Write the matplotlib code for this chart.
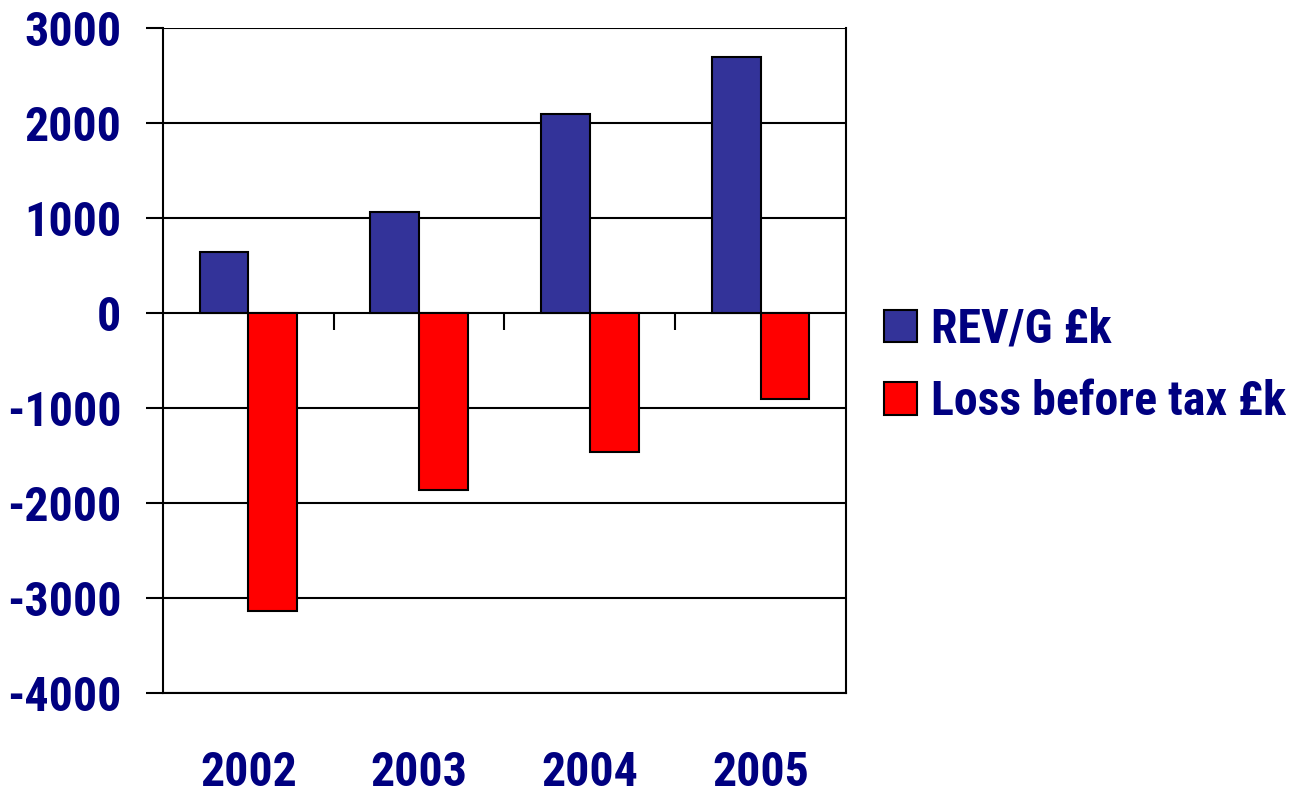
import matplotlib
matplotlib.use("Agg")
import matplotlib.pyplot as plt
import numpy as np
from matplotlib.patches import Patch
from matplotlib import font_manager

years = ["2002", "2003", "2004", "2005"]
revenue = [640, 1060, 2090, 2690]
loss = [-3140, -1860, -1460, -910]
series_names = ["REV/G £k", "Loss before tax £k"]
yticks = [3000, 2000, 1000, 0, -1000, -2000, -3000, -4000]


def _bold_ok(name):
    for f in font_manager.fontManager.ttflist:
        if f.name == name:
            try:
                w = int(f.weight)
            except (TypeError, ValueError):
                w = 700 if "bold" in str(f.weight).lower() else 400
            if w >= 700 and "Italic" not in f.fname:
                return True
    return False


chosen = "Liberation Sans"
for cand in ["Liberation Sans Narrow", "Arial Narrow", "Roboto Condensed", "PT Sans Narrow",
             "Archivo Narrow", "Asap Condensed"]:
    if _bold_ok(cand):
        chosen = cand
        break
plt.rcParams['font.family'] = [chosen, "Liberation Sans", "DejaVu Sans"]

navy = "#000080"
blue = "#333399"
red = "#FF0000"
fs = 34.5

fig = plt.figure(figsize=(13.1, 7.95), dpi=100)
ax = fig.add_axes([163/1310, 1-693/795, (846-163)/1310, (693-28)/795])

x = np.arange(len(years))
w = 1/3.5
ax.bar(x - w/2, revenue, w, color=blue, edgecolor="black", linewidth=1.5, zorder=3, label=series_names[0])
ax.bar(x + w/2, loss, w, color=red, edgecolor="black", linewidth=1.5, zorder=3, label=series_names[1])

ax.set_xlim(-0.5, len(years) - 0.5)
ax.set_ylim(-4000, 3000)
ax.set_yticks(yticks)
ax.set_yticklabels([str(v) for v in yticks])
ax.yaxis.grid(True, color="black", linewidth=1.5, zorder=1)
ax.set_axisbelow(True)
for side in ["left", "right", "bottom"]:
    ax.spines[side].set_linewidth(1.5)
    ax.spines[side].set_color("black")
ax.spines["top"].set_visible(False)

ax.tick_params(axis="y", direction="out", length=12, width=1.5, pad=18, labelsize=fs, labelcolor=navy)
for lab in ax.get_yticklabels():
    lab.set_fontweight("bold")

ax.set_xticks(x)
ax.set_xticklabels(years)
ax.tick_params(axis="x", length=0, pad=41, labelsize=fs, labelcolor=navy)
for lab in ax.get_xticklabels():
    lab.set_fontweight("bold")

sec = ax.secondary_xaxis(0, transform=ax.transData)
sec.set_xticks(x[:-1] + 0.5)
sec.set_xticklabels([])
sec.tick_params(direction="out", length=12, width=1.5)
sec.spines["bottom"].set_visible(False)

leg = fig.legend(handles=[Patch(facecolor=blue, edgecolor="black", linewidth=1.5),
                          Patch(facecolor=red, edgecolor="black", linewidth=1.5)],
                 labels=series_names, loc="center left",
                 bbox_to_anchor=(884/1310, 1-366/795), frameon=False,
                 handlelength=0.68, handleheight=0.68, handletextpad=0.3,
                 labelspacing=0.55, borderpad=0, borderaxespad=0,
                 prop={"size": fs, "weight": "bold"})
for t in leg.get_texts():
    t.set_color(navy)

fig.savefig("out.png", dpi=100)
